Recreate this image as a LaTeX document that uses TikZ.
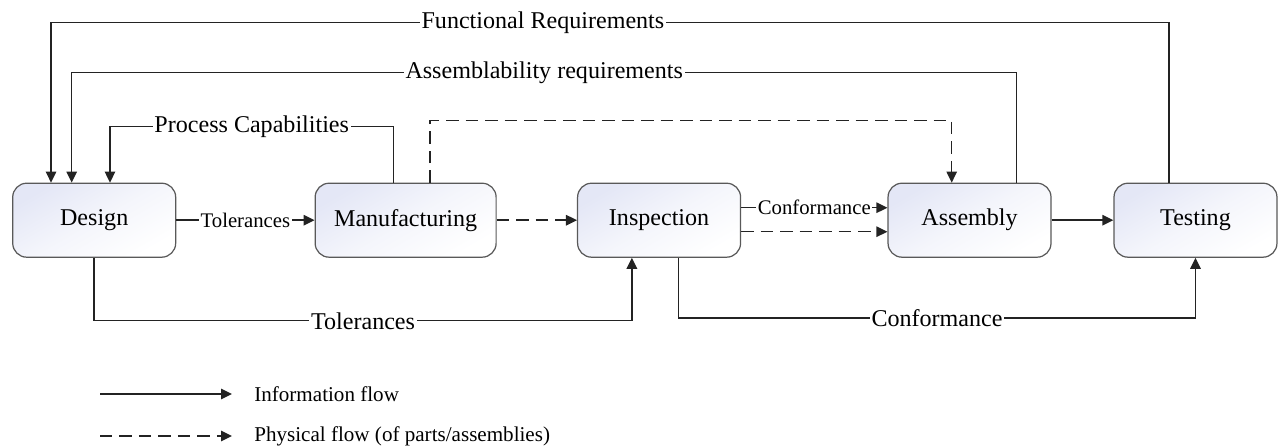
\documentclass[tikz,border=0pt]{standalone}
\usepackage{fontspec}
\setmainfont{Liberation Serif}
\usetikzlibrary{arrows.meta,positioning}
\definecolor{boxTint}{RGB}{228,231,246}
\definecolor{lineGray}{RGB}{35,35,35}
\tikzstyle{stageNode} = [rectangle, minimum width=3.26cm, minimum height=1.48cm, text centered, rounded corners=0.28cm, draw=gray!70!black, line width=0.7pt, top color=boxTint, bottom color=white, middle color=boxTint!40!white, shading angle=30, font=\fontsize{13.7}{16}\selectfont]
\tikzstyle{flowLabel} = [fill=white, inner sep=1pt, font=\fontsize{13.7}{16}\selectfont]
\tikzstyle{smallLabel} = [flowLabel, font=\fontsize{11.8}{14}\selectfont]
\tikzstyle{legendLabel} = [inner sep=0pt, anchor=west, font=\fontsize{12}{14}\selectfont]
\tikzstyle{info} = [line width=0.8pt, ->, >={Triangle[length=0.22cm,width=0.21cm]}, draw=lineGray]
\tikzstyle{phys} = [info, dash pattern=on 0.25cm off 0.14cm]

\begin{document}
\begin{tikzpicture}[x=0.02cm, y=-0.02cm, node distance=5cm]
        \useasboundingbox (0,0) rectangle (1278,446);
        \node (design) [stageNode] at (94.2,220.2) {Design};
        \node (manuf) [stageNode, right of=design, xshift=1.23cm, minimum width=3.62cm] {Manufacturing};
        \node (insp) [stageNode, right of=manuf, xshift=0.07cm] {Inspection};
        \node (assem) [stageNode, right of=insp, xshift=1.21cm] {Assembly};
        \node (test) [stageNode, right of=assem, xshift=-0.48cm] {Testing};

        \draw [info] (design) -- node[smallLabel] {Tolerances} (manuf);
        \draw [phys] (manuf) -- (insp);
        \draw [info] ([yshift=0.25cm]insp.east) -- node[smallLabel] {Conformance} ([yshift=0.25cm]assem.west);
        \draw [phys] ([yshift=-0.23cm]insp.east) -- ([yshift=-0.23cm]assem.west);
        \draw [info] (assem) -- (test);

        % feedback to design
        \draw [info] ([xshift=-0.53cm]test.north) -- ++(0,3.2cm) -| node[flowLabel, pos=0.28] {Functional Requirements} ([xshift=-0.864cm]design.north);
        \draw [info] ([xshift=0.944cm]assem.north) -- ++(0,2.2cm) -| node[flowLabel, pos=0.25] {Assemblability requirements} ([xshift=-0.45cm]design.north);
        \draw [info] ([xshift=-0.244cm]manuf.north) -- ++(0,1.12cm) -| node[flowLabel, pos=0.25] {Process Capabilities} ([xshift=0.316cm]design.north);
        \draw [phys] ([xshift=0.49cm]manuf.north) -- ++(0,1.24cm) -| ([xshift=-0.356cm]assem.north);

        \draw [info] (design.south) -- ++(0,-1.26cm) -| node[flowLabel, pos=0.25] {Tolerances} ([xshift=-0.544cm]insp.south);
        \draw [info] ([xshift=0.39cm]insp.south) -- ++(0,-1.2cm) -| node[flowLabel, pos=0.25] {Conformance} (test.south);

        % legend
        \coordinate (infoStart) at (100,394);
        \coordinate (infoEnd) at (232,394);
        \coordinate (physStart) at (100,436);
        \coordinate (physEnd) at (232,436);
        \node (infoText) [legendLabel, right=0.44cm of infoEnd] {Information flow};
        \node (physText) [legendLabel, right=0.44cm of physEnd] {Physical flow (of parts/assemblies)};
        \draw [info] (infoStart) -- (infoEnd);
        \draw [phys] (physStart) -- (physEnd);
\end{tikzpicture}
\end{document}
